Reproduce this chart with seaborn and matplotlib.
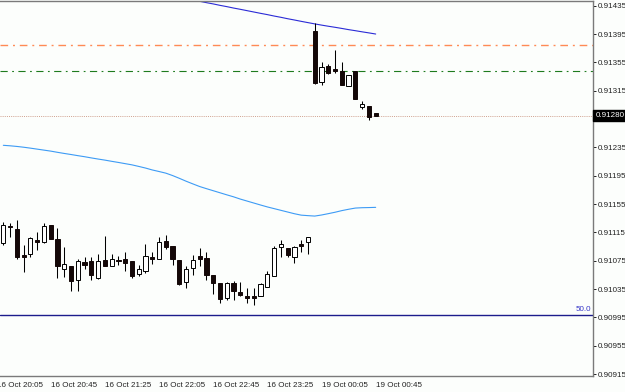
import numpy as np
import pandas as pd
import seaborn as sns
import matplotlib.pyplot as plt
import matplotlib.transforms as mtransforms

# M5 candles, one row per bar (index 0 = first bar on screen)
opens = [0.91100, 0.91124, 0.91120, 0.91083, 0.91084, 0.91105, 0.91101, 0.91125,
         0.91106, 0.91064, 0.91067, 0.91048, 0.91073, 0.91074, 0.91050, 0.91076,
         0.91068, 0.91076, 0.91078, 0.91075, 0.91056, 0.91061, 0.91080, 0.91078,
         0.91103, 0.91096, 0.91076, 0.91045, 0.91065, 0.91082, 0.91079, 0.91055,
         0.91043, 0.91023, 0.91043, 0.91031, 0.91025, 0.91025, 0.91025, 0.91038,
         0.91053, 0.91094, 0.91093, 0.91081, 0.91099, 0.91102, 0.91400, 0.91327,
         0.91350, 0.91346, 0.91343, 0.91322, 0.91343, 0.91292, 0.91293, 0.91283]
highs = [0.91130, 0.91129, 0.91132, 0.91097, 0.91108, 0.91115, 0.91129, 0.91125,
         0.91121, 0.91094, 0.91067, 0.91078, 0.91080, 0.91081, 0.91085, 0.91110,
         0.91085, 0.91082, 0.91087, 0.91075, 0.91069, 0.91098, 0.91088, 0.91109,
         0.91112, 0.91096, 0.91076, 0.91068, 0.91083, 0.91093, 0.91087, 0.91055,
         0.91043, 0.91045, 0.91046, 0.91045, 0.91036, 0.91036, 0.91044, 0.91060,
         0.91096, 0.91104, 0.91093, 0.91096, 0.91105, 0.91108, 0.91410, 0.91356,
         0.91353, 0.91372, 0.91355, 0.91337, 0.91343, 0.91300, 0.91293, 0.91283]
lows = [0.91097, 0.91109, 0.91077, 0.91059, 0.91080, 0.91090, 0.91100, 0.91106,
        0.91050, 0.91052, 0.91033, 0.91033, 0.91064, 0.91048, 0.91049, 0.91067,
        0.91068, 0.91069, 0.91060, 0.91051, 0.91053, 0.91058, 0.91070, 0.91077,
        0.91091, 0.91069, 0.91041, 0.91037, 0.91055, 0.91067, 0.91048, 0.91028,
        0.91016, 0.91019, 0.91019, 0.91025, 0.91016, 0.91013, 0.91025, 0.91038,
        0.91053, 0.91081, 0.91081, 0.91072, 0.91088, 0.91084, 0.91325, 0.91323,
        0.91339, 0.91340, 0.91323, 0.91322, 0.91303, 0.91289, 0.91274, 0.91280]
closes = [0.91126, 0.91123, 0.91080, 0.91080, 0.91107, 0.91101, 0.91124, 0.91106,
          0.91067, 0.91070, 0.91046, 0.91074, 0.91069, 0.91055, 0.91074, 0.91067,
          0.91078, 0.91075, 0.91072, 0.91053, 0.91064, 0.91082, 0.91077, 0.91101,
          0.91094, 0.91077, 0.91042, 0.91063, 0.91076, 0.91078, 0.91055, 0.91043,
          0.91021, 0.91043, 0.91033, 0.91027, 0.91022, 0.91023, 0.91042, 0.91056,
          0.91093, 0.91098, 0.91083, 0.91095, 0.91096, 0.91108, 0.91326, 0.91348,
          0.91340, 0.91343, 0.91323, 0.91337, 0.91303, 0.91296, 0.91278, 0.91280]

# slow moving average (light blue), one value per bar
ma_slow = [0.912380, 0.912373, 0.912364, 0.912353, 0.912340, 0.912326, 0.912312, 0.912298,
           0.912281, 0.912265, 0.912250, 0.912234, 0.912219, 0.912202, 0.912186, 0.912171,
           0.912154, 0.912138, 0.912121, 0.912104, 0.912082, 0.912059, 0.912032, 0.912010,
           0.911987, 0.911953, 0.911914, 0.911873, 0.911835, 0.911798, 0.911768, 0.911739,
           0.911710, 0.911681, 0.911653, 0.911621, 0.911593, 0.911565, 0.911537, 0.911510,
           0.911486, 0.911462, 0.911438, 0.911414, 0.911394, 0.911387, 0.911381, 0.911396,
           0.911415, 0.911435, 0.911458, 0.911477, 0.911494, 0.911499, 0.911501, 0.911504]

# upper moving average (dark blue), only the part near the window, from bar 28
ma_upper_start = 28
ma_upper = [0.914452, 0.914413, 0.914394, 0.914376, 0.914356, 0.914338, 0.914318, 0.914300,
            0.914281, 0.914262, 0.914243, 0.914225, 0.914205, 0.914187, 0.914167, 0.914149,
            0.914130, 0.914112, 0.914094, 0.914077, 0.914061, 0.914046, 0.914030, 0.914013,
            0.913998, 0.913982, 0.913967, 0.913951]

level_orange = 0.91379
level_green = 0.91343
level_fibo = 0.90999
last_price = 0.91280

tick_bars = [-1, 7, 15, 23, 31, 39, 47, 55]
tick_labels = ['16 Oct 20:05', '16 Oct 20:45', '16 Oct 21:25', '16 Oct 22:05',
               '16 Oct 22:45', '16 Oct 23:25', '19 Oct 00:05', '19 Oct 00:45']
price_ticks = [0.91435, 0.91395, 0.91355, 0.91315, 0.91275, 0.91235, 0.91195,
               0.91155, 0.91115, 0.91075, 0.91035, 0.90995, 0.90955, 0.90915]

bg = '#fcfefc'
sns.set_style('white', {'axes.facecolor': bg, 'figure.facecolor': bg})
plt.rcParams['font.family'] = ['Liberation Sans', 'DejaVu Sans']
fs = 5.8

candles = pd.DataFrame({'open': opens, 'high': highs, 'low': lows, 'close': closes})
candles['bar'] = np.arange(len(candles))
up = candles['close'] >= candles['open']

fig = plt.figure(figsize=(6.25, 3.92), dpi=100)
ax = fig.add_axes([0.0, 0.0408, 0.9488, 0.9566])

# moving averages
sns.lineplot(x=np.arange(len(ma_slow)), y=ma_slow, ax=ax, color='#3d9bf5', lw=0.8)
sns.lineplot(x=np.arange(ma_upper_start, ma_upper_start + len(ma_upper)), y=ma_upper,
             ax=ax, color='#2b2bd6', lw=0.8)

# horizontal levels
ax.axhline(level_orange, color='#ff8a55', lw=1.0, ls=(0, (5.5, 3.5, 1.4, 3.5)))
ax.axhline(level_green, color='#1e7b1e', lw=0.8, ls=(0, (6.5, 4, 1.6, 4)))
ax.axhline(last_price, color='#cfa08e', lw=0.7, ls=(0, (1, 1.2)))
ax.axhline(level_fibo, color='#1c1c8c', lw=1.0)

# candles: wicks then bodies
ax.vlines(candles['bar'], candles['low'], candles['high'], color='black', lw=0.75, zorder=3)
ax.bar(candles['bar'][up], (candles['close'] - candles['open'])[up],
       bottom=candles['open'][up], width=0.62, color='white', edgecolor='black', lw=0.7, zorder=4)
ax.bar(candles['bar'][~up], (candles['close'] - candles['open'])[~up],
       bottom=candles['open'][~up], width=0.62, color='#140808', edgecolor='#140808', lw=0.7, zorder=4)

ax.set_xlim(-0.49, 87.1)
ax.set_ylim(0.909123, 0.914417)
ax.set_xlabel('')
ax.set_ylabel('')

ax.set_xticks(tick_bars[1:])
ax.set_xticklabels(tick_labels[1:], ha='left')
ax.set_yticks(price_ticks)
ax.set_yticklabels([f'{v:.5f}' for v in price_ticks])
ax.yaxis.tick_right()
ax.tick_params(axis='both', labelsize=fs, colors='#222222', length=2.2, width=0.7,
               direction='out')
ax.tick_params(axis='y', pad=1.2)
ax.tick_params(axis='x', pad=1.8)

# first label sits left of the window and is cut by the edge
ax.annotate(tick_labels[0], xy=(tick_bars[0], 0), xycoords=('data', 'axes fraction'),
            xytext=(0, -4.0), textcoords='offset points', ha='left', va='top',
            fontsize=fs, color='#222222', annotation_clip=False)

for side in ['top', 'bottom', 'right']:
    ax.spines[side].set_color('#7a7a7a')
    ax.spines[side].set_linewidth(1.0)
ax.spines['left'].set_visible(False)

blend = mtransforms.blended_transform_factory(ax.transAxes, ax.transData)
ax.text(0.997, level_fibo + 0.00002, '50.0', transform=blend, ha='right', va='bottom',
        fontsize=fs, color='#3535c8')
ax.text(1.004, last_price, f'{last_price:.5f}', transform=blend, ha='left', va='center',
        fontsize=fs, color='white', zorder=10,
        bbox=dict(boxstyle='square,pad=0.3', fc='black', ec='black'))

fig.savefig('out.png', dpi=100, facecolor=bg)
